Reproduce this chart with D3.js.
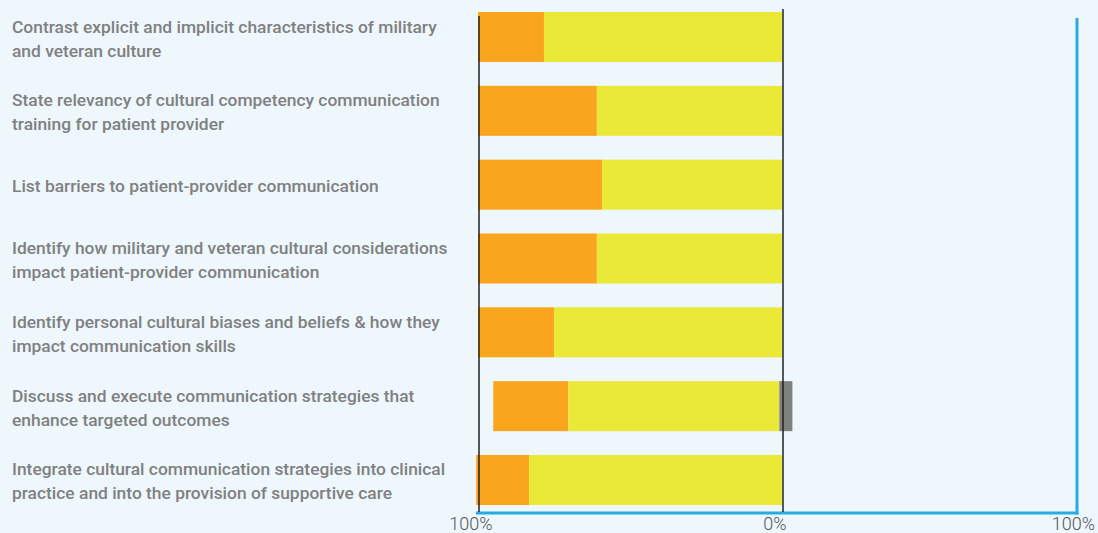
<!DOCTYPE html>
<html>
<head>
<meta charset="utf-8">
<script src="https://cdn.jsdelivr.net/npm/d3@7"></script>
<style>
  html, body { margin: 0; padding: 0; background: #edf7fc; }
  svg { display: block; }
</style>
</head>
<body>
<svg id="chart" width="1098" height="533"></svg>
<script>
// ---- data ----
const categories = [
  ["Contrast explicit and implicit characteristics of military", "and veteran culture"],
  ["State relevancy of cultural competency communication", "training for patient provider"],
  ["List barriers to patient-provider communication"],
  ["Identify how military and veteran cultural considerations", "impact patient-provider communication"],
  ["Identify personal cultural biases and beliefs & how they", "impact communication skills"],
  ["Discuss and execute communication strategies that", "enhance targeted outcomes"],
  ["Integrate cultural communication strategies into clinical", "practice and into the provision of supportive care"]
];
const stronglyAgree = [21.7, 39.1, 40.8, 39.1, 25.0, 24.7, 17.4];
const agree         = [78.3, 60.9, 59.2, 60.9, 75.0, 69.4, 83.2];
const neutral       = [0, 0, 0, 0, 0, 4.4, 0];
const tickValues = [-100, 0, 100];
const tickLabels = ["100%", "0%", "100%"];

const colors = { strong: "#f9a61e", agree: "#ebe937", neutral: "#808080" };
const neutralLeftShare = 0.2;

// ---- layout ----
const svg = d3.select("#chart");
const x = d3.scaleLinear().domain([-100, 0, 100]).range([478, 782, 1077]);
const y = d3.scaleBand().domain(d3.range(categories.length)).range([12, 505])
  .paddingInner(0.3225).paddingOuter(0);

const rows = categories.map((c, i) => {
  const nl = neutral[i] * neutralLeftShare;
  const yEnd = -nl;
  const yStart = yEnd - agree[i];
  const sStart = yStart - stronglyAgree[i];
  return { i, sStart, yStart, yEnd, nEnd: yEnd + neutral[i] };
});

const g = svg.append("g");
// strongly agree (orange)
g.selectAll("rect.s").data(rows).join("rect").attr("class", "s")
  .attr("x", d => x(d.sStart)).attr("width", d => x(d.yStart) - x(d.sStart))
  .attr("y", d => y(d.i)).attr("height", y.bandwidth()).attr("fill", colors.strong);
// agree (yellow)
g.selectAll("rect.a").data(rows).join("rect").attr("class", "a")
  .attr("x", d => x(d.yStart)).attr("width", d => x(d.yEnd) - x(d.yStart))
  .attr("y", d => y(d.i)).attr("height", y.bandwidth()).attr("fill", colors.agree);
// neutral (gray)
g.selectAll("rect.n").data(rows.filter(d => neutral[d.i] > 0)).join("rect").attr("class", "n")
  .attr("x", d => x(d.yEnd)).attr("width", d => x(d.nEnd) - x(d.yEnd))
  .attr("y", d => y(d.i)).attr("height", y.bandwidth()).attr("fill", colors.neutral);

// frame (blue)
const blue = "#29abe2";
svg.append("line").attr("x1", 476).attr("x2", x(100) + 1.5)
  .attr("y1", 513).attr("y2", 513).attr("stroke", blue).attr("stroke-width", 3);
svg.append("line").attr("x1", x(100)).attr("x2", x(100))
  .attr("y1", 18).attr("y2", 514.5).attr("stroke", blue).attr("stroke-width", 3);

// black reference lines
svg.append("line").attr("x1", x(-100) + 1).attr("x2", x(-100) + 1)
  .attr("y1", 16).attr("y2", 512).attr("stroke", "#222").attr("stroke-width", 1.5);
svg.append("line").attr("x1", x(0) + 1).attr("x2", x(0) + 1)
  .attr("y1", 9).attr("y2", 512).attr("stroke", "#222").attr("stroke-width", 1.5);

// tick labels
svg.selectAll("text.tick").data(tickValues).join("text").attr("class", "tick")
  .attr("x", (d, i) => i === tickValues.length - 1 ? x(d) + 18 : x(d) - 7)
  .attr("y", 530)
  .attr("text-anchor", (d, i) => i === tickValues.length - 1 ? "end" : "middle")
  .attr("font-family", "Roboto, sans-serif").attr("font-weight", 300)
  .attr("font-size", 18).attr("fill", "#555")
  .text((d, i) => tickLabels[i]);

// category labels
const lineH = 24;
const lab = svg.selectAll("text.cat").data(categories).join("text").attr("class", "cat")
  .attr("font-family", "Roboto, sans-serif").attr("font-weight", 500)
  .attr("font-size", 17.4).attr("fill", "#808080");
lab.each(function (lines, i) {
  const t = d3.select(this);
  const cy = y(i) + y.bandwidth() / 2;
  const top = cy - (lines.length - 1) * lineH / 2 + 7.5;
  lines.forEach((s, k) => {
    t.append("tspan").attr("x", 12).attr("y", top + k * lineH).text(s);
  });
});
</script>
</body>
</html>
